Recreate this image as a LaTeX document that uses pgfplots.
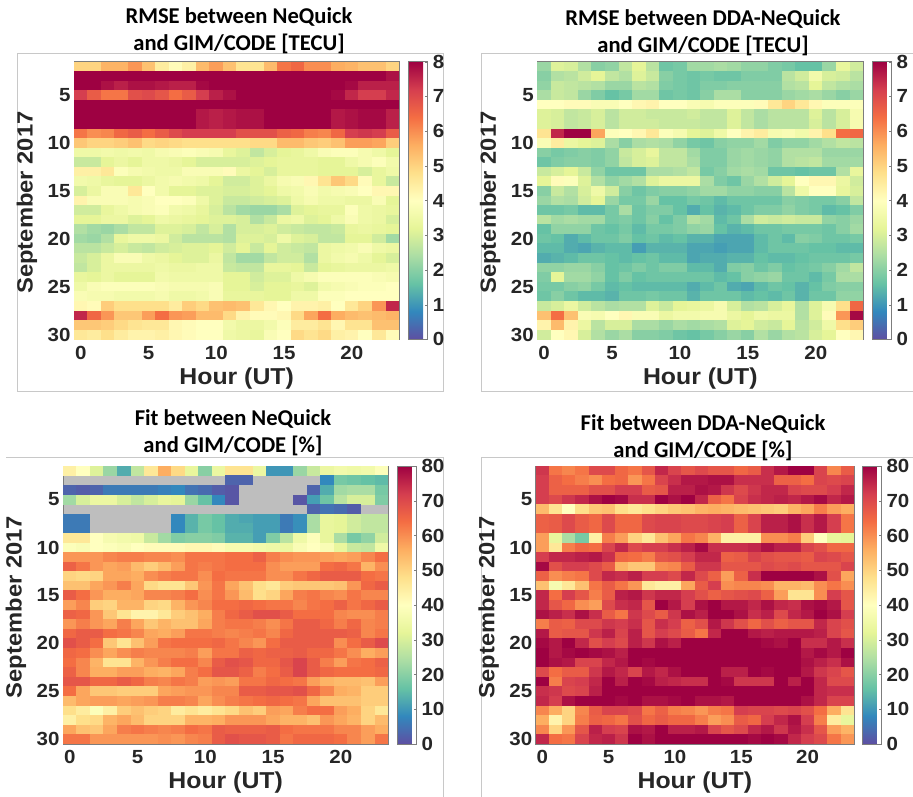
\documentclass[border=0pt]{standalone}
\usepackage{fontspec}
\setmainfont{Liberation Sans}
\newfontfamily\titlefont{Carlito}
\newfontfamily\lab{Liberation Sans}[FakeStretch=1.08]
\usepackage{pgfplots}
\usepackage{pgfplotstable}
\pgfplotsset{compat=1.18}
\definecolor{frm}{RGB}{200,200,200}
\definecolor{txt}{RGB}{38,38,38}
\definecolor{axl}{RGB}{125,125,125}
\definecolor{miss}{RGB}{190,190,190}
\pgfdeclareplotmark{cellA}{\pgfpathrectanglecorners{\pgfpoint{-6.95pt}{-4.95pt}}{\pgfpoint{6.95pt}{4.95pt}}\pgfusepathqfill}
\pgfdeclareplotmark{cellB}{\pgfpathrectanglecorners{\pgfpoint{-6.8pt}{-4.95pt}}{\pgfpoint{6.8pt}{4.95pt}}\pgfusepathqfill}
\pgfplotstableread{
d h0 h1 h2 h3 h4 h5 h6 h7 h8 h9 h10 h11 h12 h13 h14 h15 h16 h17 h18 h19 h20 h21 h22 h23
2 5.0 5.0 5.5 5.5 5.9 5.3 4.5 4.1 4.4 5.4 5.8 5.3 4.7 4.7 5.4 6.3 6.5 6.0 6.0 5.6 5.5 5.3 5.3 5.0
3 8 8 8 8 8 8 8 8 8 8 8 8 8 8 8 8 8 8 8 8 8 8 8 7.8
4 8 8 7.8 7.6 7.8 7.8 7.7 7.6 7.6 7.9 8 8 8 8 8 8 8 8 8 8 7.9 7.6 7.6 7.6
5 7.2 6.7 6.3 6.3 6.9 7.0 6.8 6.4 6.7 7.2 7.6 7.8 8 8 8 8 8 8 8 7.9 7.5 7.2 7.2 7.5
6 8 8 8 8 8 8 8 8 8 8 8 8 8 8 8 8 8 8 8 8 8 8 8 8
7 8 8 8 8 8 8 8 8 8 7.7 7.6 7.7 7.8 7.8 8 8 8 8 8 7.7 7.8 7.9 7.9 7.6
8 8 8 8 8 8 8 8 8 8 7.7 7.6 7.7 7.8 7.8 8 8 8 8 8 7.7 7.8 7.9 7.9 7.6
9 6.3 6.0 6.1 6.5 6.7 6.4 6.7 7.0 7.2 7.2 7.2 7.2 6.9 6.9 6.9 6.6 6.5 6.2 6.1 6.5 7.2 7.3 7.2 6.7
10 5.2 5.0 5.0 5.1 5.3 4.9 5.0 4.9 4.8 4.8 4.8 4.8 4.8 4.9 4.9 5.4 5.4 5.2 5.1 5.3 5.8 5.8 5.7 5.1
11 3.5 3.5 3.6 3.5 3.6 3.5 3.7 3.8 3.9 3.8 3.7 3.3 3.1 2.7 3.0 3.2 3.3 3.5 3.8 3.9 3.9 3.7 3.5 3.2
12 2.8 2.8 3.2 3.4 3.2 3.5 3.5 3.4 3.2 3.0 3.0 3.0 3.0 3.1 3.2 3.3 3.3 3.3 3.2 3.2 3.5 3.7 3.9 3.6
13 4.4 4.4 4.6 3.9 3.7 3.6 3.5 3.5 3.8 3.8 3.8 4.1 3.4 3.2 3.0 3.3 3.3 3.3 3.2 3.2 3.2 3.0 3.3 3.5
14 3.6 3.5 3.3 3.2 3.2 3.4 3.6 3.7 3.6 3.5 3.2 2.9 2.9 3.1 3.4 3.7 3.8 4.2 4.7 5.2 4.9 4.1 3.3 2.8
15 3.0 3.4 3.8 3.8 4.6 4.0 3.6 3.2 3.2 3.1 3.1 3.0 3.0 3.1 3.2 3.5 3.6 3.8 3.6 3.7 3.8 4.0 4.2 4.2
16 4.3 3.8 3.8 3.8 3.7 3.8 4.0 4.0 3.9 3.5 3.1 2.8 2.8 2.9 3.0 3.1 3.5 3.7 3.5 3.5 3.4 3.4 3.8 3.2
17 2.9 2.9 3.3 3.5 3.7 3.8 3.9 3.6 3.5 3.3 3.0 2.6 2.3 2.2 2.2 2.4 3.1 3.2 3.3 3.3 3.9 3.5 3.4 3.3
18 3.2 3.2 3.4 3.4 3.1 3.2 3.5 3.4 3.3 3.2 3.1 3.1 3.0 2.5 2.8 3.4 3.5 3.1 3.2 3.5 3.8 3.5 3.4 3.0
19 2.5 2.3 2.2 2.4 2.7 2.7 3.1 3.1 3.0 2.7 3.0 2.5 3.0 3.0 3.1 2.9 2.8 2.7 2.7 2.8 3.3 3.4 3.3 3.2
20 2.3 2.2 2.5 3.3 3.5 3.5 3.4 2.9 2.6 2.6 2.6 2.5 3.1 3.1 3.0 3.5 3.1 3.0 2.7 2.7 3.2 3.2 2.9 2.3
21 2.6 2.6 2.8 3.0 2.8 2.7 2.9 3.0 3.1 3.1 3.2 2.9 3.2 2.8 3.2 2.9 2.8 2.7 3.4 3.5 3.6 3.8 3.5 3.4
22 2.8 3.0 3.4 3.8 3.8 3.5 3.4 3.2 3.1 3.1 3.4 2.7 2.3 2.3 2.7 2.9 2.9 2.5 3.4 3.6 3.7 3.5 3.2 3.0
23 2.7 3.0 3.4 3.4 3.4 3.4 3.5 3.4 3.4 3.5 3.5 2.8 2.7 2.7 3.3 3.3 3.2 2.8 3.2 3.3 3.4 3.4 3.4 3.5
24 3.3 3.2 3.4 3.2 3.2 3.2 3.6 3.5 3.5 3.5 3.5 3.2 3.2 2.9 3.1 3.1 3.5 3.7 3.9 3.9 3.9 3.9 3.8 3.7
25 3.5 3.8 3.9 3.9 3.9 3.9 3.8 3.7 3.7 3.7 3.8 3.2 3.2 3.0 3.2 3.2 3.3 3.1 3.6 3.7 3.8 3.9 3.9 4.0
26 3.8 3.7 3.7 3.6 3.6 3.6 3.7 3.5 3.5 3.6 3.8 3.3 3.3 3.3 3.2 3.2 3.5 3.5 3.9 3.9 4.0 4.0 4.0 4.0
27 4.2 4.1 5.1 4.8 4.8 4.8 4.8 4.5 5.1 4.9 5.3 5.4 5.3 4.6 4.2 4.0 4.3 4.3 4.4 4.0 4.6 5.0 5.9 7.5
28 7.5 6.5 5.9 5.2 5.2 5.8 6.4 5.9 5.8 5.4 5.4 4.9 4.3 4.1 4.1 4.2 4.9 5.7 6.4 5.6 5.4 5.3 5.4 5.5
29 5.2 5.2 5.1 4.9 4.7 4.6 4.6 4.2 4.1 4.0 4.0 3.6 3.4 3.4 3.6 3.9 4.5 4.5 4.7 4.2 4.7 4.7 5.3 5.3
30 4.6 4.5 4.8 4.5 4.3 4.3 4.4 4.2 4.1 4.0 4.0 3.5 3.4 3.3 3.8 4.0 4.9 4.7 4.9 4.4 4.3 4.0 4.6 4.1
}\tabA
\pgfplotstableread{
d h0 h1 h2 h3 h4 h5 h6 h7 h8 h9 h10 h11 h12 h13 h14 h15 h16 h17 h18 h19 h20 h21 h22 h23
2 2.2 3.1 3.0 2.5 2.0 2.1 2.7 3.2 2.6 1.7 1.8 2.3 2.3 2.4 2.3 2.1 2.1 1.9 1.8 1.6 1.6 2.2 3.3 2.9
3 2.0 2.5 2.6 2.9 3.2 2.7 2.5 3.1 2.8 2.0 1.8 1.7 1.8 1.7 1.7 1.9 1.9 1.9 2.6 2.9 3.6 3.0 2.9 2.6
4 2.1 2.8 2.7 2.6 2.5 2.2 2.2 2.6 2.5 1.9 1.8 1.7 1.9 1.9 2.0 2.0 2.0 2.0 2.5 2.6 3.2 2.7 2.5 2.4
5 2.4 2.8 2.7 2.2 1.9 1.6 1.8 2.3 2.3 1.7 1.8 1.7 2.0 2.4 2.4 2.0 2.0 2.0 2.2 2.3 2.4 2.2 2.0 2.2
6 4.0 4.0 4.1 4.1 3.8 3.8 4.0 4.2 4.3 4.0 4.0 3.8 3.7 3.9 3.9 3.9 4.1 4.6 5.0 4.6 4.2 3.9 3.9 3.9
7 3.1 3.0 2.7 2.8 3.0 2.6 2.9 2.9 2.8 2.8 2.8 2.9 2.7 2.7 3.1 2.7 2.4 2.6 2.6 2.6 3.1 2.6 3.0 3.7
8 3.1 3.0 2.7 2.8 3.0 2.6 2.9 2.9 2.9 2.8 2.8 2.8 2.7 2.7 3.1 2.7 2.4 2.6 2.6 2.6 3.0 2.6 3.0 3.7
9 4.7 7.5 8 8 5.7 3.9 4.0 4.2 4.6 3.9 3.7 3.2 3.1 3.5 4.0 4.3 4.5 3.7 3.8 3.6 4.3 4.8 6.4 6.5
10 3.8 4.5 3.4 3.2 3.1 2.4 2.0 2.4 2.5 2.4 2.1 1.8 1.7 2.0 2.1 2.1 2.3 1.9 2.1 2.1 2.3 2.5 2.7 2.6
11 2.0 1.8 1.9 2.0 1.9 2.1 2.8 3.0 3.3 2.7 2.7 2.3 1.9 1.9 2.2 2.3 2.2 2.1 2.5 2.5 2.5 2.2 2.2 2.2
12 1.7 1.9 2.0 2.0 1.9 2.1 2.7 3.0 3.1 2.7 2.7 2.4 1.9 1.9 2.2 2.3 2.2 2.1 2.5 2.6 2.7 2.3 2.3 2.3
13 2.8 3.0 3.2 2.8 2.1 1.7 1.7 1.7 2.4 2.4 2.5 2.7 1.8 2.0 2.3 2.4 2.3 1.7 1.7 1.6 1.7 1.7 2.5 3.3
14 3.2 4.1 3.9 3.1 2.5 2.1 2.3 2.5 3.1 3.4 3.4 3.4 2.4 1.9 1.7 2.2 2.5 2.9 3.2 4.0 4.2 4.2 3.4 2.9
15 2.0 2.8 2.5 3.0 3.5 2.9 2.0 1.7 1.9 2.0 2.0 2.1 2.3 2.3 2.1 2.1 2.0 2.0 2.6 3.5 4.0 4.0 3.3 3.0
16 2.2 2.5 2.4 2.9 3.2 2.2 1.8 1.8 2.2 1.6 1.6 1.8 1.7 1.5 1.7 1.7 1.7 1.7 2.0 1.9 1.8 1.8 2.0 2.7
17 1.7 1.7 1.8 1.5 1.5 1.8 2.4 1.7 1.9 1.9 1.6 1.3 1.6 1.4 1.5 1.7 1.9 1.9 2.1 1.9 1.8 1.5 1.6 1.9
18 2.6 2.3 2.4 2.3 2.3 1.8 1.9 1.7 2.0 1.6 1.9 2.5 2.3 1.5 1.7 2.4 2.9 2.8 2.9 2.8 2.8 2.1 2.0 2.2
19 1.6 2.1 2.1 2.1 1.7 1.6 1.8 1.5 1.8 1.8 1.9 2.1 2.2 1.6 1.4 1.5 1.7 1.7 1.8 1.8 1.8 1.7 2.0 2.3
20 1.7 1.6 1.3 1.5 1.7 1.7 1.9 1.6 1.7 1.5 1.6 1.4 1.4 1.2 1.2 1.2 1.5 1.7 1.5 2.0 1.9 1.7 1.7 1.8
21 1.5 1.5 1.3 1.2 1.4 1.5 1.5 1.1 1.4 1.4 1.4 1.2 1.2 1.1 1.2 1.2 1.5 1.7 1.7 1.7 1.6 1.6 1.5 1.5
22 1.3 1.4 1.5 1.7 1.7 1.6 1.5 1.6 1.7 1.5 1.5 1.2 1.3 1.3 1.4 1.4 1.6 1.5 1.5 1.6 1.7 1.7 1.7 1.8
23 2.1 2.1 2.2 2.2 2.0 1.6 1.7 1.9 1.7 1.9 1.9 1.5 1.5 1.3 1.9 2.0 1.7 1.9 1.6 1.7 1.8 2.0 2.3 2.7
24 1.9 3.2 2.3 2.3 2.1 1.6 1.9 1.6 1.7 1.7 1.7 1.7 1.7 1.5 1.6 2.0 2.1 2.2 1.7 1.7 1.5 1.8 2.4 2.4
25 1.8 1.8 2.0 2.1 1.8 1.5 1.6 1.5 1.5 1.5 1.5 1.3 1.5 1.7 1.3 1.2 1.5 1.7 1.6 1.4 1.6 1.9 2.0 2.0
26 1.7 2.0 1.7 1.5 1.5 1.4 1.7 1.7 1.8 1.7 1.7 1.4 1.7 1.7 1.7 1.5 1.6 1.5 1.7 1.4 1.7 1.7 2.1 2.1
27 2.8 3.0 3.4 2.9 2.6 2.4 2.5 2.5 3.1 2.8 3.2 3.3 3.4 3.7 3.0 2.5 2.6 3.0 3.3 2.5 3.1 3.7 4.8 6.5
28 5.3 6.4 5.3 3.8 3.7 4.0 4.2 3.8 3.8 3.4 3.6 3.6 3.7 3.7 3.4 3.2 3.5 3.4 3.4 2.5 3.1 4.1 5.9 7.9
29 4.3 5.4 4.3 3.4 2.6 3.0 3.0 2.4 2.4 2.2 2.4 2.3 2.4 2.5 3.1 3.2 2.9 2.8 3.2 2.6 2.9 3.5 4.8 5.1
30 2.9 4.0 4.2 3.0 2.5 2.2 2.4 2.0 2.0 1.9 1.7 1.6 1.8 2.0 2.2 2.0 2.5 2.2 2.5 2.6 3.0 3.2 4.0 4.2
}\tabB
\pgfplotstableread{
d h0 h1 h2 h3 h4 h5 h6 h7 h8 h9 h10 h11 h12 h13 h14 h15 h16 h17 h18 h19 h20 h21 h22 h23
2 44 40 31 22 13 27 46 56 49 33 20 34 47 47 34 10 10 22 28 34 36 35 36 39
3 nan nan nan nan nan nan nan nan nan nan nan nan 3 3 nan nan nan nan nan 8 18 17 16 15
4 3 2 3 6 6 6 6 7 8 5 4 2 1 nan nan nan nan nan 3 13 23 24 24 18
5 23 30 34 34 30 27 30 33 32 22 16 8 1 nan nan nan nan 1 11 17 26 30 30 19
6 nan nan nan nan nan nan nan nan nan nan nan nan nan nan nan nan nan nan 3 5 4 2 nan nan
7 6 6 nan nan nan nan nan nan 8 14 18 16 13 12 11 11 6 9 24 33 32 29 27 27
8 6 6 nan nan nan nan nan nan 8 14 18 16 13 13 11 11 6 9 24 33 32 29 27 27
9 46 46 40 37 36 35 28 23 19 20 20 19 14 14 11 19 26 35 39 33 24 18 21 29
10 39 38 40 39 38 40 41 41 41 42 42 41 37 37 36 35 34 38 40 38 33 28 27 35
11 59 59 59 61 62 62 61 61 60 63 63 63 64 64 66 62 60 59 59 58 57 58 61 64
12 66 63 59 57 58 54 51 54 58 63 62 63 64 64 64 60 58 58 58 64 65 63 55 60
13 50 49 50 57 57 56 60 62 63 63 60 64 63 63 63 60 60 63 65 67 67 67 64 63
14 53 53 57 59 62 57 49 47 47 52 59 63 57 53 48 46 51 52 52 52 53 59 65 67
15 67 64 59 56 56 57 61 61 62 64 60 63 59 54 48 50 57 62 63 61 60 63 61 61
16 58 61 51 50 55 55 50 49 55 59 61 64 64 65 64 63 63 61 63 64 66 63 65 67
17 66 65 59 52 47 43 43 46 51 53 56 62 65 67 69 69 67 64 64 64 61 60 60 62
18 59 62 59 57 62 57 52 55 53 53 57 62 63 63 62 60 63 67 67 65 62 65 61 62
19 65 67 67 64 63 61 57 56 58 63 63 62 61 62 63 61 65 67 67 67 67 66 61 63
20 69 67 64 52 47 53 58 63 64 64 64 65 63 61 59 64 67 67 67 67 60 64 67 70
21 65 64 60 57 60 62 61 61 61 62 58 63 63 66 65 66 66 67 65 65 63 60 56 58
22 64 61 55 47 47 55 59 62 64 64 61 67 69 68 65 65 68 71 67 62 58 63 64 66
23 66 61 56 56 58 58 56 55 57 62 64 68 68 66 62 64 67 71 67 65 64 64 64 65
24 68 68 65 65 67 65 62 61 63 62 58 59 58 63 63 65 64 63 58 55 54 54 53 58
25 64 57 52 52 51 51 51 57 58 59 59 61 61 67 67 68 68 69 65 61 56 55 51 51
26 54 57 58 58 57 58 59 62 62 61 57 60 62 63 64 65 64 63 57 53 53 53 51 51
27 48 45 39 44 51 53 51 50 45 47 45 47 49 53 51 58 57 62 64 64 58 56 50 46
28 44 48 49 55 57 54 50 50 50 55 55 56 59 59 59 57 55 55 53 59 57 55 50 54
29 57 53 52 57 62 63 62 61 62 64 63 67 66 66 66 67 64 63 63 63 61 61 58 56
30 63 63 59 59 59 59 59 60 59 61 62 67 69 68 68 67 63 65 65 65 64 61 58 63
}\tabC
\pgfplotstableread{
d h0 h1 h2 h3 h4 h5 h6 h7 h8 h9 h10 h11 h12 h13 h14 h15 h16 h17 h18 h19 h20 h21 h22 h23
2 73 63 61 63 70 70 65 63 68 75 71 68 70 68 68 65 67 74 77 80 80 71 61 67
3 72 66 64 62 60 64 65 59 63 71 74 77 77 78 78 74 74 74 66 66 64 71 70 71
4 72 66 66 66 69 69 72 72 67 68 76 76 78 77 73 70 73 75 75 71 70 70 72 75
5 72 70 73 75 78 80 79 74 74 80 78 80 75 66 63 71 74 75 76 75 77 79 75 77
6 54 47 40 48 52 53 48 46 48 50 52 53 55 56 55 54 53 52 51 55 57 62 58 56
7 66 67 70 67 65 70 65 65 70 71 71 70 70 71 72 66 71 76 76 78 74 77 72 63
8 66 67 70 67 65 70 65 65 70 71 71 70 70 71 72 66 71 76 76 78 74 77 72 63
9 58 33 24 18 44 62 58 50 46 53 57 63 61 55 44 44 44 60 60 62 51 40 33 32
10 58 46 62 65 64 71 75 70 72 72 74 76 79 74 74 74 75 78 76 76 71 69 65 65
11 72 75 75 76 77 74 65 64 62 68 69 72 75 75 66 67 71 69 68 68 67 71 70 68
12 79 69 72 72 70 67 55 52 52 60 61 67 73 73 68 68 68 70 69 70 68 68 68 71
13 66 60 62 63 70 75 74 76 72 72 70 75 70 66 58 66 74 80 80 80 80 78 69 57
14 53 37 46 53 63 67 63 59 46 44 44 57 67 72 60 61 61 60 55 55 54 60 63 60
15 75 64 72 68 62 67 76 77 73 75 75 72 69 66 68 69 70 66 58 47 47 60 72 68
16 75 68 65 60 58 70 74 75 68 80 77 72 78 80 77 77 75 78 75 74 78 79 77 68
17 78 76 74 78 74 67 63 73 70 67 73 78 76 80 80 78 74 76 70 75 77 80 78 72
18 62 67 66 70 70 73 72 74 68 74 72 66 69 77 73 69 65 69 66 68 68 75 71 69
19 77 67 68 68 73 76 71 76 68 72 70 67 63 75 80 80 77 76 77 77 77 76 71 68
20 79 77 80 75 69 72 70 76 73 78 76 80 80 80 80 80 80 79 78 80 74 74 77 74
21 80 77 79 80 79 78 76 80 80 80 80 80 80 80 80 80 80 80 80 80 77 79 77 80
22 80 78 77 71 71 75 77 80 79 80 80 80 80 80 80 80 80 80 80 80 78 76 74 78
23 70 64 67 67 73 77 75 71 77 75 78 80 80 80 76 76 80 79 80 80 77 73 71 68
24 80 62 71 72 75 80 76 80 79 76 75 74 74 80 79 73 73 73 80 76 80 75 70 70
25 74 73 70 71 76 80 80 80 80 80 80 80 80 80 80 80 80 80 80 80 80 75 74 74
26 75 72 78 80 80 80 79 80 78 78 79 80 78 78 77 80 80 80 80 80 78 75 71 71
27 61 56 50 61 67 71 71 70 63 66 62 61 59 62 63 72 71 71 70 71 69 64 56 47
28 56 43 50 62 66 65 63 69 65 67 65 65 62 58 60 67 65 72 75 78 72 62 45 33
29 61 50 59 68 76 72 71 78 77 80 76 76 77 71 68 70 75 77 73 77 74 68 58 55
30 75 64 63 71 75 76 73 80 78 80 80 80 80 80 80 80 79 80 79 75 72 70 63 59
}\tabD
\pgfplotsset{
 hm/.style={
  scale only axis, axis on top,
  xmin=-0.5, xmax=23.5, ymin=1.5, ymax=30.5, y dir=reverse,
  xtick={0,5,10,15,20}, ytick={5,10,15,20,25,30},
  tick align=inside, major tick length=3pt,
  axis line style={axl, line width=0.7pt},
  tick style={axl, line width=0.6pt},
  /pgf/number format/assume math mode=true,
  tick label style={font=\lab\fontsize{19}{19}\selectfont\bfseries, text=txt},
  xticklabel style={yshift=-3pt},
  xtick pos=both, ytick pos=both, xticklabel pos=bottom, yticklabel pos=left,
  xlabel={Hour (UT)}, ylabel={September 2017},
  xlabel style={at={(axis description cs:0.5,0)}, anchor=center, yshift=-39pt, font=\lab\fontsize{23}{23}\selectfont\bfseries, text=txt},
  ylabel style={at={(axis description cs:0,0.5)}, anchor=center, yshift=47pt, xshift=-2pt, font=\lab\fontsize{22}{22}\selectfont\bfseries, text=txt},
  colormap={spectral}{rgb255=(94,79,162) rgb255=(50,136,189) rgb255=(102,194,165) rgb255=(171,221,164) rgb255=(230,245,152) rgb255=(255,255,191) rgb255=(254,224,139) rgb255=(253,174,97) rgb255=(244,109,67) rgb255=(213,62,79) rgb255=(158,1,66)},
  colorbar, point meta min=0,
 },
 cb/.style n args={3}{colorbar style={
   at={(parent axis.north east)}, anchor=north west, xshift=#1,
   scale only axis, width=18.5pt, height=\pgfkeysvalueof{/pgfplots/parent axis height},
   ytick=#2, ylabel={}, xlabel={},
   yticklabel pos=right, ytick pos=right,
   tick align=inside, major tick length=2pt,
   axis line style={axl, line width=0.7pt}, tick style={axl},
   /pgf/number format/assume math mode=true,
   tick label style={font=\lab\fontsize{19}{19}\selectfont\bfseries, text=txt},
   yticklabel style={xshift=#3},
 }},
}
\newcommand{\cells}[2]{\pgfplotsinvokeforeach{0,...,23}{\addplot[scatter, only marks, mark=#2, point meta=explicit, forget plot] table[x expr={##1+\thisrow{h##1}-\thisrow{h##1}}, y=d, meta=h##1] {#1};}}
\newcommand{\ttl}[4]{\node[font=\titlefont\fontsize{22.6}{22.6}\selectfont\bfseries, text=black] at (#1pt,#2pt) {#3};\node[font=\titlefont\fontsize{22.6}{22.6}\selectfont\bfseries, text=black] at (#1pt,#2pt-27pt) {#4};}
\begin{document}
\begin{tikzpicture}[x=1pt,y=1pt]
\useasboundingbox (0,0) rectangle (913pt,796pt);
\clip (0,0) rectangle (913pt,796pt);
\draw[frm, line width=0.8pt] (17pt,743pt) rectangle (443pt,405pt);
\draw[frm, line width=0.8pt] (915pt,743pt) -- (481pt,743pt) -- (481pt,405pt) -- (915pt,405pt);
\draw[frm, line width=0.8pt] (6pt,339pt) -- (443pt,339pt) -- (443pt,-2pt);
\draw[frm, line width=0.8pt] (915pt,339pt) -- (481pt,339pt) -- (481pt,-2pt);
\begin{axis}[hm, at={(74pt,456.6pt)}, anchor=south west, width=325.3pt, height=277.7pt, point meta max=8, cb={1pt}{{0,1,2,3,4,5,6,7,8}}{2pt}]
\cells{\tabA}{cellA}
\end{axis}
\begin{axis}[hm, at={(537.3pt,456.6pt)}, anchor=south west, width=326pt, height=277.7pt, point meta max=8, cb={0.7pt}{{0,1,2,3,4,5,6,7,8}}{2pt}]
\cells{\tabB}{cellA}
\end{axis}
\begin{axis}[hm, at={(63pt,52pt)}, anchor=south west, width=325.3pt, height=278pt, point meta max=80, cb={0.7pt}{{0,10,20,30,40,50,60,70,80}}{2pt}, axis background/.style={fill=miss}]
\cells{\tabC}{cellA}
\end{axis}
\begin{axis}[hm, at={(535.7pt,52pt)}, anchor=south west, width=318.3pt, height=278pt, point meta max=80, cb={0pt}{{0,10,20,30,40,50,60,70,80}}{2pt}]
\cells{\tabD}{cellB}
\end{axis}
\ttl{239}{779}{RMSE between NeQuick}{and GIM/CODE [TECU]}
\ttl{703}{777}{RMSE between DDA-NeQuick}{and GIM/CODE [TECU]}
\ttl{233}{377}{Fit between NeQuick}{and GIM/CODE [\%]}
\ttl{703}{372}{Fit between DDA-NeQuick}{and GIM/CODE [\%]}
\end{tikzpicture}
\end{document}
